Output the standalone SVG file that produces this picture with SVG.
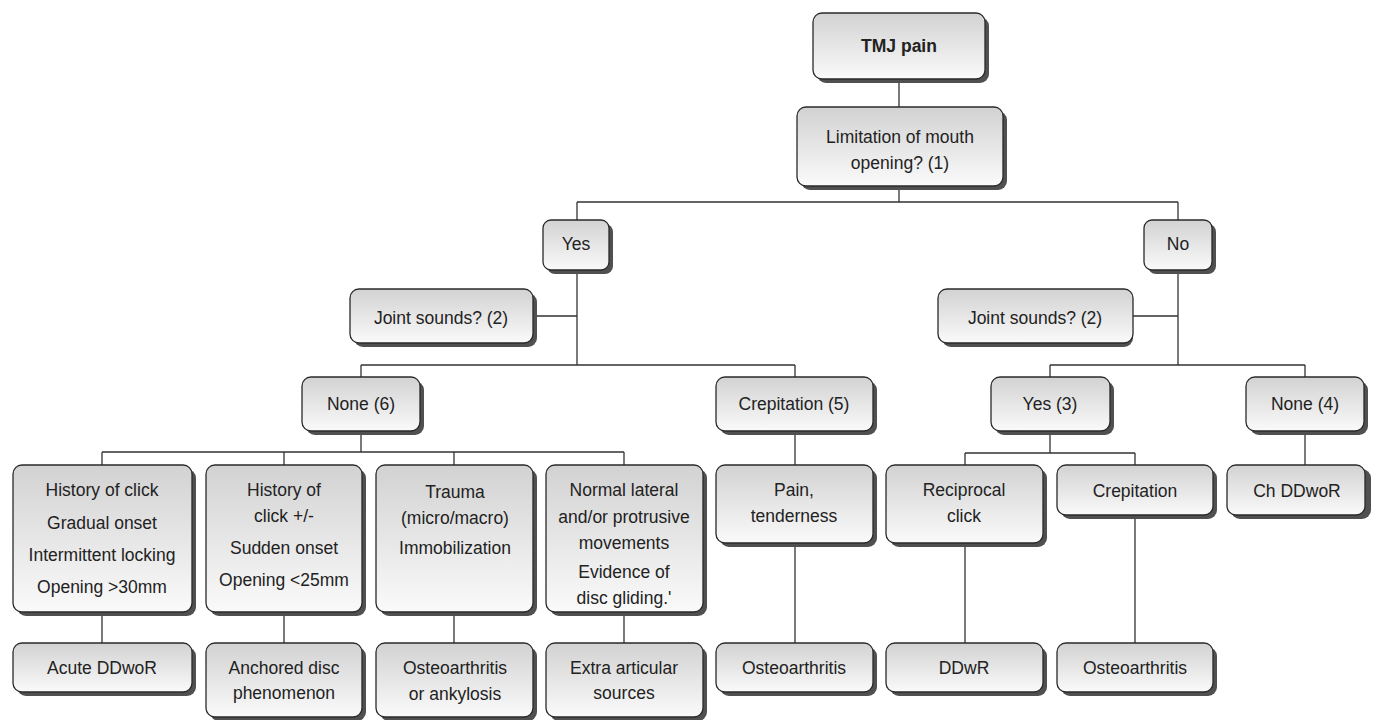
<svg xmlns="http://www.w3.org/2000/svg" width="1375" height="720" viewBox="0 0 1375 720">
<defs>
<linearGradient id="g" x1="0" y1="0" x2="0" y2="1">
<stop offset="0" stop-color="#d2d2d2"/>
<stop offset="1" stop-color="#fafafa"/>
</linearGradient>
</defs>
<style>
.sh{fill:#505050;}
.bx{fill:url(#g);stroke:#2a2a2a;stroke-width:1.3;}
text{font-family:"Liberation Sans",Arial,sans-serif;font-size:17.5px;fill:#222;text-anchor:middle;}
.b{font-weight:bold;}
.c{fill:none;stroke:#333;stroke-width:1.3;}
</style>
<rect width="1375" height="720" fill="#fff"/>
<g id="connectors">
<path class="c" d="M899 79V107M899 186V202M577 202H1178M577 202V220M1178 202V220"/>
<path class="c" d="M577 270V365M533 316H577M361 365H795M361 365V377M795 365V377"/>
<path class="c" d="M1178 270V365M1133 316H1178M1050 365H1305M1050 365V377M1305 365V377"/>
<path class="c" d="M361 431V452M102 452H624M102 452V465M284 452V465M454 452V465M624 452V465"/>
<path class="c" d="M102 612V643M284 612V643M454 612V643M624 612V643"/>
<path class="c" d="M795 431V465M795 543V643"/>
<path class="c" d="M1050 431V453M965 453H1135M965 453V465M1135 453V465M965 543V643M1135 515V643"/>
<path class="c" d="M1305 431V465"/>
</g>
<g id="tmj"><rect class="sh" x="817" y="17" width="172" height="66" rx="9"/><rect class="bx" x="813" y="13" width="172" height="66" rx="9"/><text class="b" x="899" y="52">TMJ pain</text></g>
<g id="limitation"><rect class="sh" x="801" y="111" width="206" height="79" rx="9"/><rect class="bx" x="797" y="107" width="206" height="79" rx="9"/><text x="900" y="143">Limitation of mouth</text><text x="900" y="169">opening? (1)</text></g>
<g id="yes"><rect class="sh" x="547" y="224" width="66" height="50" rx="8"/><rect class="bx" x="543" y="220" width="66" height="50" rx="8"/><text x="576" y="250">Yes</text></g>
<g id="no"><rect class="sh" x="1148" y="224" width="68" height="50" rx="8"/><rect class="bx" x="1144" y="220" width="68" height="50" rx="8"/><text x="1178" y="250">No</text></g>
<g id="joint-left"><rect class="sh" x="354" y="293" width="183" height="54" rx="9"/><rect class="bx" x="350" y="289" width="183" height="54" rx="9"/><text x="441" y="324">Joint sounds? (2)</text></g>
<g id="joint-right"><rect class="sh" x="942" y="293" width="191" height="54" rx="9"/><rect class="bx" x="938" y="289" width="195" height="54" rx="9"/><text x="1035" y="324">Joint sounds? (2)</text></g>
<g id="none6"><rect class="sh" x="306" y="381" width="118" height="54" rx="9"/><rect class="bx" x="302" y="377" width="118" height="54" rx="9"/><text x="361" y="410">None (6)</text></g>
<g id="crep5"><rect class="sh" x="720" y="381" width="157" height="54" rx="9"/><rect class="bx" x="716" y="377" width="157" height="54" rx="9"/><text x="794" y="410">Crepitation (5)</text></g>
<g id="yes3"><rect class="sh" x="995" y="381" width="119" height="54" rx="9"/><rect class="bx" x="991" y="377" width="119" height="54" rx="9"/><text x="1050" y="410">Yes (3)</text></g>
<g id="none4"><rect class="sh" x="1250" y="381" width="118" height="54" rx="9"/><rect class="bx" x="1246" y="377" width="118" height="54" rx="9"/><text x="1305" y="410">None (4)</text></g>
<g id="history1"><rect class="sh" x="17" y="469" width="179" height="147" rx="9"/><rect class="bx" x="13" y="465" width="179" height="147" rx="9"/><text x="102" y="496">History of click</text><text x="102" y="529">Gradual onset</text><text x="102" y="561">Intermittent locking</text><text x="102" y="593">Opening &gt;30mm</text></g>
<g id="history2"><rect class="sh" x="210" y="469" width="156" height="147" rx="9"/><rect class="bx" x="206" y="465" width="156" height="147" rx="9"/><text x="284" y="496">History of</text><text x="284" y="522">click +/-</text><text x="284" y="554">Sudden onset</text><text x="284" y="586">Opening &lt;25mm</text></g>
<g id="trauma"><rect class="sh" x="380" y="469" width="157" height="147" rx="9"/><rect class="bx" x="376" y="465" width="157" height="147" rx="9"/><text x="455" y="498">Trauma</text><text x="455" y="524">(micro/macro)</text><text x="455" y="554">Immobilization</text></g>
<g id="normal"><rect class="sh" x="550" y="469" width="157" height="147" rx="9"/><rect class="bx" x="546" y="465" width="157" height="147" rx="9"/><text x="624" y="496">Normal lateral</text><text x="624" y="523">and/or protrusive</text><text x="624" y="549">movements</text><text x="624" y="578">Evidence of</text><text x="624" y="604">disc gliding.'</text></g>
<g id="pain"><rect class="sh" x="720" y="469" width="157" height="78" rx="9"/><rect class="bx" x="716" y="465" width="157" height="78" rx="9"/><text x="794" y="496">Pain,</text><text x="794" y="522">tenderness</text></g>
<g id="reciprocal"><rect class="sh" x="890" y="469" width="157" height="78" rx="9"/><rect class="bx" x="886" y="465" width="157" height="78" rx="9"/><text x="964" y="496">Reciprocal</text><text x="964" y="522">click</text></g>
<g id="crepitation"><rect class="sh" x="1061" y="469" width="156" height="50" rx="9"/><rect class="bx" x="1057" y="465" width="156" height="50" rx="9"/><text x="1135" y="497">Crepitation</text></g>
<g id="chddwor"><rect class="sh" x="1231" y="469" width="140" height="50" rx="9"/><rect class="bx" x="1227" y="465" width="138" height="50" rx="9"/><text x="1297" y="497">Ch DDwoR</text></g>
<g id="acute"><rect class="sh" x="17" y="647" width="179" height="49" rx="9"/><rect class="bx" x="13" y="643" width="179" height="49" rx="9"/><text x="102" y="674">Acute DDwoR</text></g>
<g id="anchored"><rect class="sh" x="210" y="647" width="156" height="74" rx="9"/><rect class="bx" x="206" y="643" width="156" height="74" rx="9"/><text x="284" y="674">Anchored disc</text><text x="284" y="699">phenomenon</text></g>
<g id="oa-ank"><rect class="sh" x="380" y="647" width="157" height="74" rx="9"/><rect class="bx" x="376" y="643" width="157" height="74" rx="9"/><text x="455" y="674">Osteoarthritis</text><text x="455" y="700">or ankylosis</text></g>
<g id="extra"><rect class="sh" x="550" y="647" width="157" height="74" rx="9"/><rect class="bx" x="546" y="643" width="157" height="74" rx="9"/><text x="624" y="674">Extra articular</text><text x="624" y="699">sources</text></g>
<g id="oa1"><rect class="sh" x="720" y="647" width="157" height="49" rx="9"/><rect class="bx" x="716" y="643" width="157" height="49" rx="9"/><text x="794" y="674">Osteoarthritis</text></g>
<g id="ddwr"><rect class="sh" x="890" y="647" width="157" height="49" rx="9"/><rect class="bx" x="886" y="643" width="157" height="49" rx="9"/><text x="964" y="674">DDwR</text></g>
<g id="oa2"><rect class="sh" x="1061" y="647" width="156" height="49" rx="9"/><rect class="bx" x="1057" y="643" width="156" height="49" rx="9"/><text x="1135" y="674">Osteoarthritis</text></g>
</svg>
